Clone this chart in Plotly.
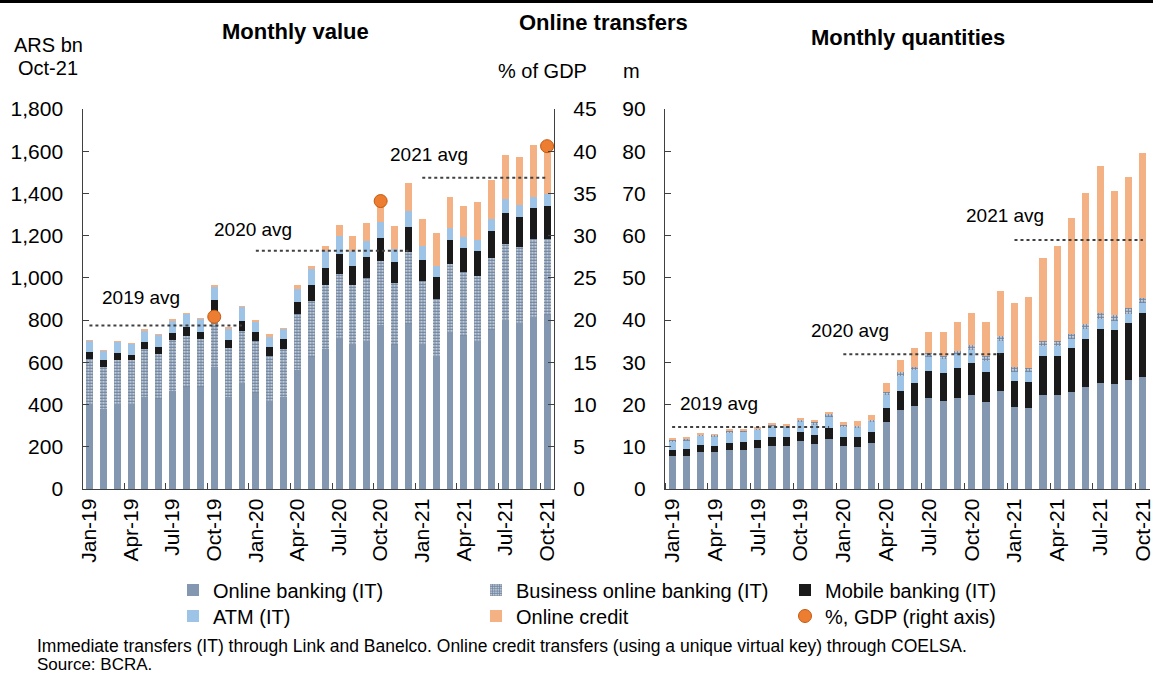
import plotly.graph_objects as go

# ---------------- data ----------------
months = ["Jan-19", "Feb-19", "Mar-19", "Apr-19", "May-19", "Jun-19", "Jul-19", "Aug-19", "Sep-19",
          "Oct-19", "Nov-19", "Dec-19", "Jan-20", "Feb-20", "Mar-20", "Apr-20", "May-20", "Jun-20",
          "Jul-20", "Aug-20", "Sep-20", "Oct-20", "Nov-20", "Dec-20", "Jan-21", "Feb-21", "Mar-21",
          "Apr-21", "May-21", "Jun-21", "Jul-21", "Aug-21", "Sep-21", "Oct-21"]
tick_labels = ["Jan-19", "Apr-19", "Jul-19", "Oct-19", "Jan-20", "Apr-20", "Jul-20", "Oct-20",
               "Jan-21", "Apr-21", "Jul-21", "Oct-21"]

# Monthly value, ARS bn (Oct-21 prices)
val_online = [405, 379, 402, 402, 438, 426, 465, 484, 481, 580, 438, 504, 454, 415, 434, 563, 626,
              662, 714, 686, 702, 777, 683, 780, 686, 631, 744, 725, 702, 752, 801, 788, 815, 824]
val_business = [212, 199, 208, 208, 227, 212, 239, 240, 228, 262, 231, 244, 245, 215, 231, 264, 264,
                302, 305, 278, 297, 303, 294, 343, 297, 270, 320, 304, 309, 344, 360, 358, 369, 360]
val_mobile = [32, 32, 32, 26, 33, 36, 34, 44, 36, 52, 36, 50, 44, 44, 44, 58, 74,
              85, 96, 91, 99, 107, 97, 119, 104, 104, 114, 113, 115, 127, 146, 142, 148, 157]
val_atm = [53, 47, 57, 52, 54, 57, 62, 62, 61, 66, 57, 65, 52, 50, 50, 63, 79,
           77, 85, 73, 75, 79, 63, 74, 62, 53, 56, 54, 55, 58, 66, 55, 53, 57]
val_credit = [1, 1, 2, 2, 2, 2, 4, 3, 2, 3, 2, 3, 2, 8, 3, 17, 15,
              27, 52, 72, 85, 75, 110, 132, 132, 154, 148, 144, 179, 183, 208, 228, 244, 225]

gdp_months = ["Oct-19", "Oct-20", "Oct-21"]
gdp_pct = [20.4, 34.1, 40.6]

# Monthly quantities, millions
qty_online = [7.9, 7.9, 8.7, 8.7, 9.3, 9.3, 9.7, 10.3, 10.1, 11.3, 10.6, 11.8, 10.2, 10.0, 11.0, 15.9, 18.7,
              19.6, 21.5, 20.9, 21.6, 22.3, 20.6, 23.3, 19.4, 19.1, 22.3, 22.3, 22.9, 24.1, 25.1, 24.9, 25.7, 26.6]
qty_mobile = [1.3, 1.5, 1.7, 1.5, 1.7, 1.9, 1.8, 1.9, 2.1, 2.2, 2.2, 2.7, 2.2, 2.4, 2.4, 3.3, 4.6,
              5.6, 6.5, 6.6, 7.0, 7.6, 7.2, 9.0, 6.2, 6.3, 9.2, 9.3, 10.4, 11.5, 12.9, 12.8, 13.5, 15.1]
qty_atm = [2.1, 2.2, 2.2, 2.2, 2.3, 2.3, 2.4, 2.4, 2.2, 2.4, 2.3, 2.6, 2.3, 2.2, 2.5, 3.0, 3.4,
           3.0, 3.2, 3.2, 3.4, 3.0, 2.6, 2.7, 2.2, 2.2, 2.3, 2.3, 2.2, 2.3, 2.3, 2.2, 2.3, 2.3]
qty_business = [0.4, 0.4, 0.4, 0.4, 0.5, 0.4, 0.5, 0.6, 0.6, 0.6, 0.8, 0.8, 0.5, 0.4, 0.5, 0.7, 0.9,
                0.8, 1.1, 0.8, 0.7, 1.1, 1.0, 1.3, 1.0, 1.1, 1.2, 1.1, 1.2, 1.2, 1.4, 1.3, 1.3, 1.2]
qty_credit = [0.4, 0.2, 0.2, 0.2, 0.3, 0.3, 0.2, 0.2, 0.2, 0.3, 0.3, 0.3, 0.7, 1.2, 1.1, 2.2, 2.9,
              4.3, 5.0, 5.8, 6.9, 7.8, 8.2, 10.7, 15.2, 16.8, 19.7, 22.6, 27.4, 31.0, 34.7, 29.4, 31.2, 34.3]

avg_years = ["19", "20", "21"]
avg_value = [774, 1128, 1474]
avg_qty = [14.7, 31.9, 59.0]

# ---------------- styling ----------------
C_ONLINE = "#8497B0"
C_MOBILE = "#1A1A1A"
C_ATM = "#9DC3E6"
C_CREDIT = "#F4B183"
C_GDP = "#ED7D31"
AXIS_C = "#404040"
ARIAL = "Liberation Sans, Arial, sans-serif"

W, H = 1153, 675
idx = list(range(len(months)))
tick_idx = [months.index(m) for m in tick_labels]


def px_x(p):
    return p / W


def px_y(p):
    return 1 - p / H


biz_pattern = dict(shape=".", fgcolor="#6F84A0", bgcolor="white", size=3, solidity=0.75)

fig = go.Figure()

# left panel: value
left_series = [
    ("Online banking (IT)", val_online, dict(color=C_ONLINE), "legend"),
    ("Business online banking (IT)", val_business, dict(color="white", pattern=biz_pattern), "legend2"),
    ("Mobile banking (IT)", val_mobile, dict(color=C_MOBILE), "legend3"),
    ("ATM (IT)", val_atm, dict(color=C_ATM), "legend4"),
    ("Online credit", val_credit, dict(color=C_CREDIT), "legend5"),
]
for name, vals, mk, lg in left_series:
    mk = dict(mk, line=dict(width=0))
    fig.add_trace(go.Bar(x=idx, y=vals, name=name, marker=mk, xaxis="x", yaxis="y",
                         legend=lg, showlegend=True))

fig.add_trace(go.Scatter(x=[months.index(m) for m in gdp_months], y=gdp_pct, mode="markers",
                         name="%, GDP (right axis)",
                         marker=dict(color=C_GDP, size=13, line=dict(color="#C55A11", width=1)),
                         xaxis="x", yaxis="y2", legend="legend6", showlegend=True))

# right panel: quantities (different stacking order)
right_series = [
    (qty_online, dict(color=C_ONLINE)),
    (qty_mobile, dict(color=C_MOBILE)),
    (qty_atm, dict(color=C_ATM)),
    (qty_business, dict(color="white", pattern=biz_pattern)),
    (qty_credit, dict(color=C_CREDIT)),
]
for vals, mk in right_series:
    mk = dict(mk, line=dict(width=0))
    fig.add_trace(go.Bar(x=idx, y=vals, marker=mk, xaxis="x2", yaxis="y3", showlegend=False))

# yearly averages (dotted)
for yr, av, aq in zip(avg_years, avg_value, avg_qty):
    yi = [i for i, m in enumerate(months) if m.endswith("-" + yr)]
    xs = [yi[0], yi[-1]]
    fig.add_trace(go.Scatter(x=xs, y=[av, av], mode="lines", xaxis="x", yaxis="y",
                             line=dict(color="#404040", width=2, dash="dot"), showlegend=False))
    fig.add_trace(go.Scatter(x=xs, y=[aq, aq], mode="lines", xaxis="x2", yaxis="y3",
                             line=dict(color="#404040", width=2, dash="dot"), showlegend=False))

ydom = [px_y(489), px_y(109)]
common_x = dict(range=[-0.5, 33.5], tickmode="array", tickvals=tick_idx, ticktext=tick_labels,
                tickangle=-90, ticks="", showline=True, linecolor=AXIS_C, linewidth=1.3,
                showgrid=False, zeroline=False, automargin=False, ticklabeloverflow="allow",
                tickfont=dict(family=ARIAL, size=21, color="black"),
                minor=dict(tickmode="linear", tick0=2.5, dtick=3, ticks="inside", ticklen=6,
                           tickcolor=AXIS_C, tickwidth=1.3, showgrid=False))
common_y = dict(ticks="inside", ticklen=6, tickcolor=AXIS_C, tickwidth=1.3, showline=True,
                linecolor=AXIS_C, linewidth=1.3, showgrid=False, zeroline=False, automargin=False,
                tickfont=dict(family=ARIAL, size=21, color="black"), ticklabelstandoff=14)

fig.update_layout(
    width=W, height=H, template="none",
    margin=dict(l=0, r=0, t=0, b=0, autoexpand=False),
    paper_bgcolor="white", plot_bgcolor="white",
    barmode="stack", bargap=0.5,
    xaxis=dict(common_x, domain=[px_x(82.5), px_x(554)], anchor="y"),
    yaxis=dict(common_y, domain=ydom, range=[0, 1800], dtick=200, tickformat=",", anchor="x"),
    yaxis2=dict(common_y, domain=ydom, range=[0, 45], dtick=5, overlaying="y", side="right",
                anchor="x"),
    xaxis2=dict(common_x, domain=[px_x(665), px_x(1150)], anchor="y3"),
    yaxis3=dict(common_y, domain=ydom, range=[0, 90], dtick=10, anchor="x2"),
    showlegend=True,
)

# six single-entry legends laid out as a 3x2 grid
leg_font = dict(family=ARIAL, size=20, color="black")
leg_pos = {
    "legend": (213, 590), "legend2": (516, 590), "legend3": (825, 590),
    "legend4": (213, 616), "legend5": (516, 616), "legend6": (825, 616),
}
for key, (tx, ty) in leg_pos.items():
    fig.update_layout({key: dict(x=px_x(tx - 40), y=px_y(ty), xanchor="left", yanchor="middle",
                                 orientation="h", font=leg_font, bgcolor="rgba(0,0,0,0)",
                                 borderwidth=0, traceorder="normal")})

anns = []


def text(x, y, s, size=20, family=ARIAL, bold=False, xanchor="center"):
    anns.append(dict(x=px_x(x), y=px_y(y), xref="paper", yref="paper", showarrow=False,
                     text=("<b>%s</b>" % s) if bold else s, xanchor=xanchor, yanchor="middle",
                     font=dict(family=family, size=size, color="black")))


text(295, 31, "Monthly value", size=22, bold=True)
text(603, 22, "Online transfers", size=22, bold=True)
text(908, 38, "Monthly quantities", size=22, bold=True)
text(48, 45, "ARS bn")
text(48, 68, "Oct-21")
text(542, 71, "% of GDP")
text(631, 71, "m")
text(35, 646, "Immediate transfers (IT) through Link and Banelco. Online credit transfers (using a unique "
              "virtual key) through COELSA.", size=17.5, xanchor="left")
text(35, 664, "Source: BCRA.", size=17, xanchor="left")

# avg labels in data coordinates
avg_label_left = [(3.7, 906), (11.8, 1229), (24.5, 1585)]
avg_label_right = [(3.3, 20.2), (12.5, 37.5), (23.3, 64.8)]
for yr, (lx, ly), (rx, ry) in zip(avg_years, avg_label_left, avg_label_right):
    anns.append(dict(x=lx, y=ly, xref="x", yref="y", text="20%s avg" % yr, showarrow=False,
                     font=dict(family=ARIAL, size=19, color="black")))
    anns.append(dict(x=rx, y=ry, xref="x2", yref="y3", text="20%s avg" % yr, showarrow=False,
                     font=dict(family=ARIAL, size=19, color="black")))

fig.update_layout(annotations=anns)
fig.add_shape(type="line", xref="paper", yref="paper", x0=0, x1=1, y0=px_y(1.5), y1=px_y(1.5),
              line=dict(color="black", width=3))

fig.write_html("out.html", config={"displayModeBar": False},
               post_script="document.body.style.margin='0';document.body.style.overflow='hidden';")
